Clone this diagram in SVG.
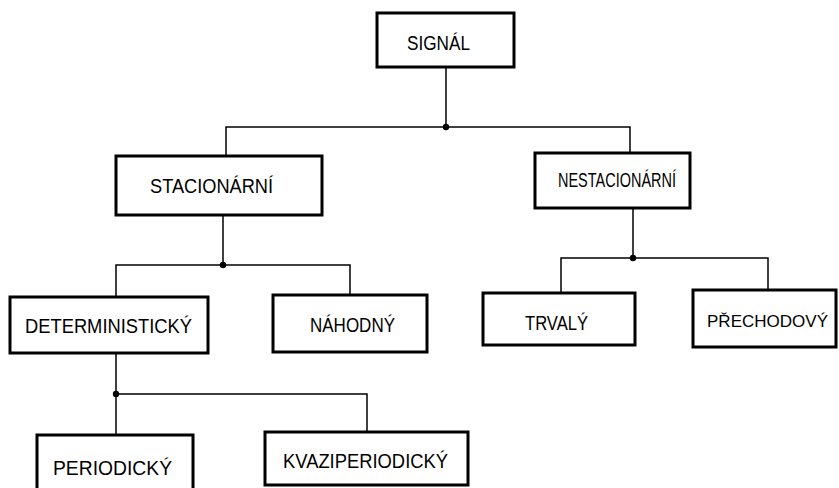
<svg xmlns="http://www.w3.org/2000/svg" width="839" height="488" viewBox="0 0 839 488">
<style>
.box{fill:#fff;stroke:#000;stroke-width:3}
.lbl{font-family:"Liberation Sans",Arial,sans-serif;font-size:20px;fill:#000}
.ln{fill:none;stroke:#000;stroke-width:1.5}
.dot{fill:#000}
</style>
<rect width="839" height="488" fill="#fff"/>
<g id="connectors">
<path class="ln" d="M446 67V127M226 156V127H630V153"/>
<path class="ln" d="M223 215V265M116 297V265H350V295"/>
<path class="ln" d="M633 208V258M561 293V258H768V290"/>
<path class="ln" d="M116 353V435M116 394H367V432"/>
<circle class="dot" cx="446" cy="127" r="3.2"/>
<circle class="dot" cx="223" cy="265" r="3.2"/>
<circle class="dot" cx="633" cy="258" r="3.2"/>
<circle class="dot" cx="116" cy="394" r="3.2"/>
</g>
<g id="signal"><rect class="box" x="377" y="13" width="137" height="54"/><text class="lbl" x="407" y="50" textLength="63" lengthAdjust="spacingAndGlyphs">SIGNÁL</text></g>
<g id="stacionarni"><rect class="box" x="116" y="156" width="206" height="59"/><text class="lbl" x="150" y="193" textLength="123" lengthAdjust="spacingAndGlyphs">STACIONÁRNÍ</text></g>
<g id="nestacionarni"><rect class="box" x="535" y="153" width="155" height="55"/><text class="lbl" x="558" y="187" textLength="118" lengthAdjust="spacingAndGlyphs">NESTACIONÁRNÍ</text></g>
<g id="deterministicky"><rect class="box" x="10" y="297" width="198" height="56"/><text class="lbl" x="25" y="333" textLength="167" lengthAdjust="spacingAndGlyphs">DETERMINISTICKÝ</text></g>
<g id="nahodny"><rect class="box" x="273" y="295" width="154" height="57"/><text class="lbl" x="310" y="332" textLength="85" lengthAdjust="spacingAndGlyphs">NÁHODNÝ</text></g>
<g id="trvaly"><rect class="box" x="483" y="293" width="152" height="52"/><text class="lbl" x="525" y="330" textLength="63" lengthAdjust="spacingAndGlyphs">TRVALÝ</text></g>
<g id="prechodovy"><rect class="box" x="693" y="290" width="143" height="57"/><text class="lbl" x="707" y="327" font-size="17" textLength="121" lengthAdjust="spacingAndGlyphs" style="font-size:17px">PŘECHODOVÝ</text></g>
<g id="periodicky"><rect class="box" x="37" y="435" width="156" height="60"/><text class="lbl" x="53" y="475" textLength="119" lengthAdjust="spacingAndGlyphs">PERIODICKÝ</text></g>
<g id="kvaziperiodicky"><rect class="box" x="265" y="432" width="203" height="53"/><text class="lbl" x="283" y="468" textLength="165" lengthAdjust="spacingAndGlyphs">KVAZIPERIODICKÝ</text></g>
</svg>
